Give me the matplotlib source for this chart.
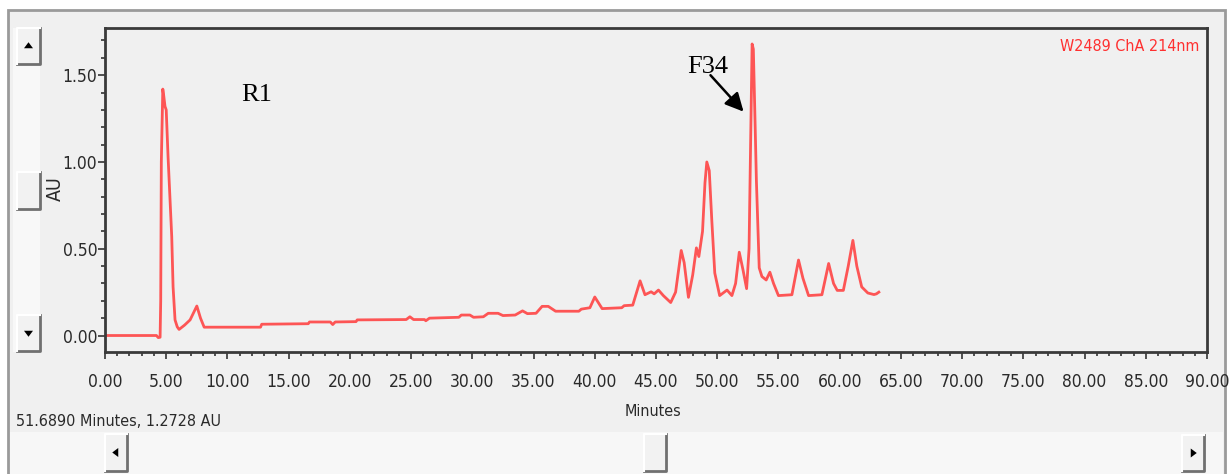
import matplotlib
matplotlib.use("Agg")
import matplotlib.pyplot as plt
from matplotlib.patches import Rectangle, Polygon
from matplotlib.ticker import MultipleLocator, FormatStrFormatter
from matplotlib import font_manager as fm

# ---------------- data ----------------
time_min = [0.0, 4.2, 4.35, 4.5, 4.55, 4.6, 4.72, 4.8, 4.9, 5.0, 5.15, 5.3, 5.45,
            5.56, 5.72, 5.9, 6.05, 6.5, 6.95, 7.5, 7.8, 8.1, 12.7, 12.8, 16.6,
            16.7, 18.4, 18.6, 18.8, 20.5, 20.6, 24.6, 24.9, 25.2, 26.1, 26.2,
            26.5, 28.9, 29.1, 29.8, 30.1, 30.9, 31.3, 32.1, 32.5, 33.5, 34.1,
            34.5, 35.2, 35.7, 36.2, 36.8, 38.7, 38.9, 39.6, 40.0, 40.6, 42.2,
            42.4, 43.1, 43.7, 44.1, 44.6, 44.85, 45.2, 45.6, 46.2, 46.6, 47.06,
            47.3, 47.65, 48.0, 48.3, 48.5, 48.8, 49.0, 49.15, 49.35, 49.56,
            49.8, 50.2, 50.8, 51.2, 51.5, 51.8, 52.1, 52.4, 52.6, 52.7, 52.85,
            52.95, 53.1, 53.2, 53.43, 53.65, 54.0, 54.3, 54.6, 55.0, 56.1,
            56.64, 57.0, 57.46, 58.55, 59.1, 59.5, 59.8, 60.3, 60.7, 61.08,
            61.4, 61.8, 62.3, 62.8, 63.0, 63.2]
absorbance_au = [0.0, 0.0, -0.012, -0.01, 0.2, 1.0, 1.42, 1.38, 1.32, 1.30, 1.03,
                 0.8, 0.57, 0.28, 0.09, 0.05, 0.035, 0.06, 0.09, 0.17, 0.1, 0.048,
                 0.048, 0.065, 0.068, 0.078, 0.078, 0.063, 0.078, 0.08, 0.09,
                 0.092, 0.108, 0.092, 0.092, 0.085, 0.1, 0.105, 0.118, 0.118,
                 0.105, 0.108, 0.128, 0.128, 0.115, 0.118, 0.142, 0.126, 0.128,
                 0.168, 0.168, 0.14, 0.14, 0.152, 0.16, 0.222, 0.155, 0.16, 0.172,
                 0.175, 0.315, 0.235, 0.252, 0.24, 0.262, 0.23, 0.19, 0.25, 0.49,
                 0.42, 0.22, 0.35, 0.505, 0.455, 0.6, 0.88, 1.0, 0.95, 0.66, 0.36,
                 0.23, 0.262, 0.23, 0.3, 0.48, 0.38, 0.27, 0.5, 0.98, 1.68, 1.65,
                 1.2, 0.89, 0.39, 0.34, 0.32, 0.365, 0.3, 0.23, 0.235, 0.435,
                 0.33, 0.23, 0.235, 0.415, 0.3, 0.26, 0.26, 0.4, 0.548, 0.4, 0.28,
                 0.245, 0.236, 0.24, 0.25]

x_ticks = [0, 5, 10, 15, 20, 25, 30, 35, 40, 45, 50, 55, 60, 65, 70, 75, 80, 85, 90]
y_ticks = [0.0, 0.5, 1.0, 1.5]

peak_labels = ["R1", "F34"]
peak_label_pos = [(12.35, 1.385), (49.2, 1.545)]
arrow_tail = (49.45, 1.50)
arrow_head = (52.15, 1.29)

channel_label = "W2489 ChA 214nm"
status_text = "51.6890 Minutes, 1.2728 AU"
x_label = "Minutes"
y_label = "AU"

# ---------------- fonts ----------------
names = {f.name for f in fm.fontManager.ttflist}
if "Liberation Sans Narrow" in names:
    NARROW = dict(family=["Liberation Sans Narrow"])
elif any(f.name == "DejaVu Sans" and str(f.stretch) == "condensed"
         for f in fm.fontManager.ttflist):
    NARROW = dict(family=["DejaVu Sans"], fontstretch="condensed")
else:
    NARROW = dict(family=["Liberation Sans"])

# ---------------- figure ----------------
W, H = 1231, 474
fig = plt.figure(figsize=(W / 100, H / 100), dpi=100, facecolor="white")

def fx(px):
    return px / W

def fy(py):
    return 1 - py / H

TICK_COL = "#2a2a2a"
BG = "#f0f0f0"

# outer window frame
fig.patches.append(Rectangle((fx(8), fy(476)), fx(1225) - fx(8), fy(10) - fy(476),
                             transform=fig.transFigure, facecolor=BG,
                             edgecolor="#9a9a9a", linewidth=2, zorder=-3))
# left scroll track
fig.patches.append(Rectangle((fx(13), fy(352)), fx(40) - fx(13), fy(28) - fy(352),
                             transform=fig.transFigure, facecolor="#f8f8f8",
                             edgecolor="none", zorder=-2))
# bottom scroll track
fig.patches.append(Rectangle((fx(10), fy(476)), fx(1223) - fx(10), fy(432) - fy(476),
                             transform=fig.transFigure, facecolor="#f7f7f7",
                             edgecolor="none", zorder=-2))

def button(x0, y0, x1, y1, tri=None):
    fig.patches.append(Rectangle((fx(x0), fy(y1)), fx(x1) - fx(x0), fy(y0) - fy(y1),
                                 transform=fig.transFigure, facecolor="#f2f2f2",
                                 edgecolor="none", zorder=-1))
    fig.lines.append(plt.Line2D([fx(x0), fx(x1), fx(x1)], [fy(y1), fy(y1), fy(y0)],
                                transform=fig.transFigure, color="#707070", lw=2,
                                zorder=-0.5))
    fig.lines.append(plt.Line2D([fx(x0), fx(x0), fx(x1)], [fy(y1), fy(y0), fy(y0)],
                                transform=fig.transFigure, color="#ffffff", lw=1.5,
                                zorder=-0.5))
    if tri is not None:
        cx, cy = (x0 + x1) / 2, (y0 + y1) / 2
        s = 4.5
        if tri == "up":
            pts = [(cx - s, cy + s / 2), (cx + s, cy + s / 2), (cx, cy - s / 1.2)]
        elif tri == "down":
            pts = [(cx - s, cy - s / 2), (cx + s, cy - s / 2), (cx, cy + s / 1.2)]
        elif tri == "left":
            pts = [(cx + s / 2, cy - s), (cx + s / 2, cy + s), (cx - s / 1.2, cy)]
        else:
            pts = [(cx - s / 2, cy - s), (cx - s / 2, cy + s), (cx + s / 1.2, cy)]
        fig.patches.append(Polygon([(fx(a), fy(b)) for a, b in pts], closed=True,
                                   transform=fig.transFigure, facecolor="black",
                                   edgecolor="none", zorder=-0.4))

button(17, 28, 40, 64, "up")
button(17, 172, 40, 209)
button(17, 315, 40, 351, "down")
button(105, 434, 127, 471, "left")
button(644, 434, 666, 471)
button(1182, 435, 1204, 471, "right")

# ---------------- axes ----------------
ax = fig.add_axes([fx(105), fy(352), fx(1207) - fx(105), fy(28) - fy(352)])
ax.set_zorder(5)
ax.set_facecolor(BG)
ax.plot(time_min, absorbance_au, color="#ff4444", lw=2.0, alpha=0.9,
        solid_joinstyle="round")

ax.set_xlim(0, 90)
ax.set_ylim(-0.095, 1.772)
ax.set_xticks(x_ticks)
ax.set_yticks(y_ticks)
ax.xaxis.set_minor_locator(MultipleLocator(1))
ax.yaxis.set_minor_locator(MultipleLocator(0.1))
ax.xaxis.set_major_formatter(FormatStrFormatter("%.2f"))
ax.yaxis.set_major_formatter(FormatStrFormatter("%.2f"))
ax.tick_params(axis="both", which="major", length=5, width=1.2, color="#333333",
               labelcolor=TICK_COL, labelsize=12.5)
ax.tick_params(axis="both", which="minor", length=3, width=1.2, color="#333333")
ax.tick_params(axis="x", which="major", pad=10)
ax.tick_params(axis="y", which="major", pad=0.5)
for lab in ax.get_xticklabels() + ax.get_yticklabels():
    lab.set_family(NARROW["family"])
    if "fontstretch" in NARROW:
        lab.set_fontstretch(NARROW["fontstretch"])
for sp in ax.spines.values():
    sp.set_color("#3a3a3a")
    sp.set_linewidth(2)

# peak annotations
for lab, (px, py) in zip(peak_labels, peak_label_pos):
    ax.text(px, py, lab, family=["Liberation Serif", "DejaVu Serif"], fontsize=19,
            ha="center", va="center", color="black")
ax.annotate("", xy=arrow_head, xytext=arrow_tail,
            arrowprops=dict(arrowstyle="-|>,head_length=1.1,head_width=0.55",
                            color="black", lw=1.8, shrinkA=0, shrinkB=0))

# channel label
ax.text(0.9935, 0.942, channel_label, transform=ax.transAxes, fontsize=11.5,
        color="#ff3030", ha="right", va="center", **NARROW)

# axis labels
fig.text(fx(653), fy(411), x_label, fontsize=11.5, color=TICK_COL,
         ha="center", va="center", **NARROW)
fig.text(fx(55), fy(189), y_label, fontsize=14, color=TICK_COL,
         ha="center", va="center", rotation=90, **NARROW)
fig.text(fx(16), fy(421), status_text, fontsize=11.5, color=TICK_COL,
         ha="left", va="center", **NARROW)

fig.savefig("out.png", dpi=100, facecolor=fig.get_facecolor())
